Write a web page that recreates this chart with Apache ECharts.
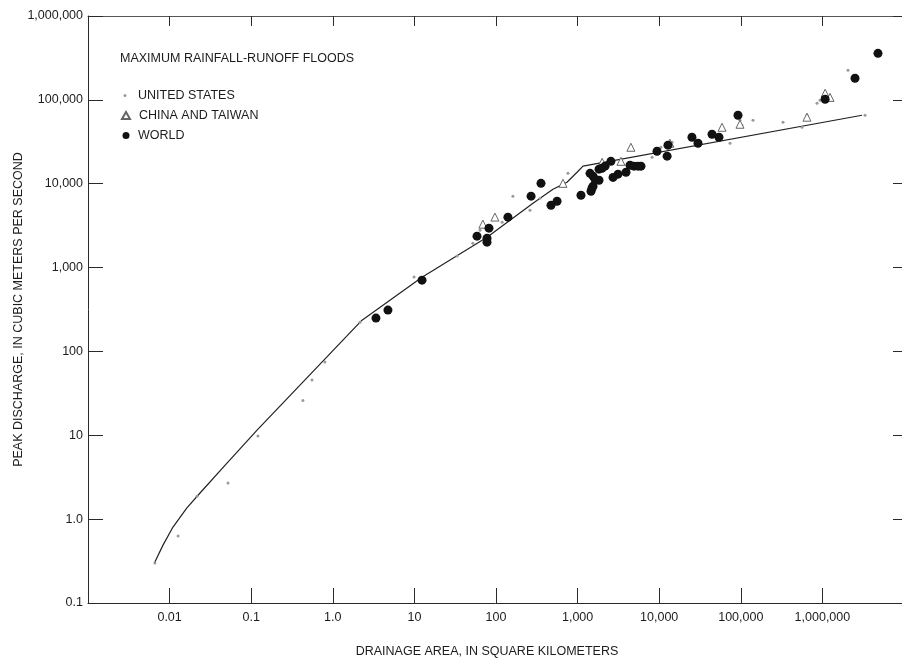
<!DOCTYPE html>
<html><head><meta charset="utf-8">
<script src="https://cdn.jsdelivr.net/npm/echarts@6/dist/echarts.min.js"></script>
<style>html,body{margin:0;padding:0;background:#fff}#c{width:902px;height:659px}</style>
</head><body><div id="c"></div>
<script>
// ---- tick labels (decade exponents) ----
const xMinExp = -3, xMaxExp = 7;
const xTickLabels = ['', '0.01', '0.1', '1.0', '10', '100', '1,000', '10,000', '100,000', '1,000,000', ''];
const yMinExp = -1, yMaxExp = 6;
const yTickLabels = ['0.1', '1.0', '10', '100', '1,000', '10,000', '100,000', '1,000,000'];

// ---- envelope curve ----
const envelopeArea = [0.0066, 0.0083, 0.011, 0.0163, 0.0236, 0.0505, 0.118, 2.28, 12.4, 77.6, 284, 499, 741, 984, 1165, 3060000];
const envelopePeak = [0.308, 0.49, 0.805, 1.36, 2.05, 4.66, 11.5, 236, 769, 2300, 5860, 8590, 10400, 13700, 16200, 65500];

// ---- United States ----
const usArea = [0.0066, 0.0127, 0.0217, 0.052, 0.121, 0.43, 0.556, 0.80, 2.15, 9.9, 33.3, 52, 63.7, 119, 161, 261, 346, 762,
  8170, 10500, 14400, 58900, 73800, 97700, 103000, 141000, 329000, 562000, 647000, 859000, 935000, 2060000, 3330000];
const usPeak = [0.30, 0.63, 1.88, 2.69, 9.8, 26, 45.5, 75, 223, 770, 1370, 1950, 2790, 3470, 7100, 4830, 6710, 13300,
  20700, 27200, 31300, 45800, 30400, 57100, 49800, 57100, 54100, 47100, 65500, 91200, 98900, 225000, 65500];

// ---- China and Taiwan ----
const chinaArea = [69, 97, 662, 2000, 3400, 4500, 13500, 58900, 97700, 647000, 1080000, 1240000];
const chinaPeak = [3290, 4000, 10100, 18000, 18500, 27200, 30400, 47100, 51200, 62100, 120000, 107000];

// ---- World ----
const worldArea = [3.38, 4.74, 12.4, 58.5, 77.6, 77.6, 82, 140, 269, 356, 472, 560,
  1100, 1460, 1500, 1545, 1420, 1545, 1635, 1830, 1830, 1990, 2170, 2560, 2720, 3130, 3920, 4390, 4910, 5500, 5980,
  9400, 12800, 12500, 25200, 29900, 44400, 54000, 92400, 1080000, 2510000, 4800000];
const worldPeak = [250, 311, 708, 2370, 2240, 2010, 2950, 3990, 7100, 10100, 5540, 6180,
  7290, 8140, 8840, 9340, 13300, 12300, 11300, 11000, 14900, 15300, 16200, 18500, 11900, 13000, 13700, 16600, 16200, 16200, 16200,
  24400, 28800, 21300, 35800, 30400, 38900, 35800, 65500, 101600, 181000, 359000];

const pairs = (a, b) => a.map((v, i) => [v, b[i]]);
const FONT = 'Liberation Sans, Arial, sans-serif';
const TXT = '#1c1c1c';
const AX = '#2a2a2a';

function decadeFormatter(labels, minExp) {
  return function (v) {
    const e = Math.round(Math.log10(v));
    const s = labels[e - minExp];
    return s === undefined ? '' : s;
  };
}

const chart = echarts.init(document.getElementById('c'), null, {renderer: 'canvas'});
function legendFor(name, top, w, h, left, padLeft) {
  return {
    data: [name], orient: 'vertical', left: left, top: top, padding: 0,
    itemWidth: w, itemHeight: h, selectedMode: false, symbolKeepAspect: true,
    textStyle: {color: TXT, fontSize: 12.5, fontFamily: FONT, padding: [0, 0, 0, padLeft]}
  };
}
chart.setOption({
  animation: false,
  backgroundColor: '#fff',
  title: {
    text: 'MAXIMUM RAINFALL-RUNOFF FLOODS', left: 120, top: 52, padding: 0,
    textStyle: {color: TXT, fontSize: 12.5, fontWeight: 'normal', fontFamily: FONT}
  },
  legend: [
    legendFor('UNITED STATES', 89, 3, 3, 123.5, 6.5),
    legendFor('CHINA AND TAIWAN', 109, 8, 7, 121, 4),
    legendFor('WORLD', 129, 7, 7, 122.5, 3.5)
  ],
  grid: {left: 88, top: 16, width: 816, height: 587, containLabel: false, outerBoundsMode: 'none'},
  xAxis: [{
    type: 'log', logBase: 10, min: Math.pow(10, xMinExp), max: Math.pow(10, xMaxExp), interval: 1,
    position: 'bottom',
    name: 'DRAINAGE AREA, IN SQUARE KILOMETERS', nameLocation: 'middle', nameGap: 42, nameMoveOverlap: false,
    nameTextStyle: {color: TXT, fontSize: 12.5, fontFamily: FONT, padding: [0, 18, 0, 0]},
    axisLine: {show: true, lineStyle: {color: AX, width: 1}},
    axisTick: {show: true, inside: true, length: 15, lineStyle: {color: AX}},
    minorTick: {show: false},
    splitLine: {show: false},
    axisLabel: {show: true, margin: 8, color: TXT, fontSize: 12.5, fontFamily: FONT,
      formatter: decadeFormatter(xTickLabels, xMinExp), showMinLabel: true, showMaxLabel: true, hideOverlap: false}
  }, {
    type: 'log', logBase: 10, min: Math.pow(10, xMinExp), max: Math.pow(10, xMaxExp), interval: 1,
    position: 'top',
    axisLine: {show: true, lineStyle: {color: '#555', width: 1}},
    axisTick: {show: true, inside: true, length: 10, lineStyle: {color: AX}},
    splitLine: {show: false},
    axisLabel: {show: false}
  }],
  yAxis: [{
    type: 'log', logBase: 10, min: Math.pow(10, yMinExp), max: Math.pow(10, yMaxExp), interval: 1,
    position: 'left',
    name: 'PEAK DISCHARGE, IN CUBIC METERS PER SECOND', nameLocation: 'middle', nameGap: 63, nameMoveOverlap: false,
    nameTextStyle: {color: TXT, fontSize: 12.5, fontFamily: FONT},
    axisLine: {show: true, lineStyle: {color: AX, width: 1}},
    axisTick: {show: true, inside: true, length: 15, lineStyle: {color: AX}},
    splitLine: {show: false},
    axisLabel: {show: true, margin: 5, color: TXT, fontSize: 12.5, fontFamily: FONT,
      formatter: decadeFormatter(yTickLabels, yMinExp), showMinLabel: true, showMaxLabel: true, hideOverlap: false}
  }, {
    type: 'log', logBase: 10, min: Math.pow(10, yMinExp), max: Math.pow(10, yMaxExp), interval: 1,
    position: 'right',
    axisLine: {show: false},
    axisTick: {show: true, inside: true, length: 11, lineStyle: {color: AX}},
    splitLine: {show: false},
    axisLabel: {show: false}
  }],
  series: [{
    name: 'envelope', type: 'line', xAxisIndex: 0, yAxisIndex: 0,
    data: pairs(envelopeArea, envelopePeak), symbol: 'none', smooth: false, silent: true, z: 1,
    lineStyle: {color: '#222', width: 1.2}
  }, {
    name: 'UNITED STATES', type: 'scatter', xAxisIndex: 0, yAxisIndex: 0,
    data: pairs(usArea, usPeak), symbol: 'circle', symbolSize: 3, z: 2,
    itemStyle: {color: '#9a9a9a', opacity: 1}
  }, {
    name: 'CHINA AND TAIWAN', type: 'scatter', xAxisIndex: 0, yAxisIndex: 0,
    data: pairs(chinaArea, chinaPeak), symbol: 'triangle', symbolSize: 8, z: 3,
    itemStyle: {color: '#fff', borderColor: '#666', borderWidth: 1, opacity: 1}
  }, {
    name: 'WORLD', type: 'scatter', xAxisIndex: 0, yAxisIndex: 0,
    data: pairs(worldArea, worldPeak), symbol: 'circle', symbolSize: 9, z: 4,
    itemStyle: {color: '#111', opacity: 1}
  }]
});
</script>
</body></html>
